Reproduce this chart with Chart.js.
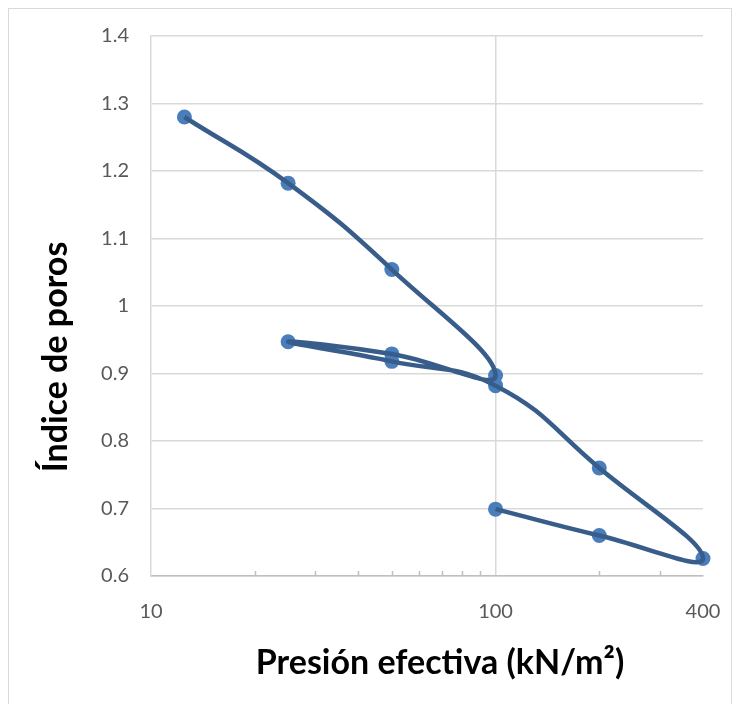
<!DOCTYPE html>
<html>
<head>
<meta charset="utf-8">
<script src="https://cdn.jsdelivr.net/npm/chart.js@4"></script>
<style>
  body { margin: 0; background: #fff; }
  #wrap { position: relative; width: 739px; height: 704px; overflow: hidden; }
  #frame { position: absolute; left: 8px; top: 8px; width: 722px; height: 720px; border: 1px solid #d9d9d9; }
  canvas { position: absolute; left: 0; top: 0; }
</style>
</head>
<body>
<div id="wrap">
  <div id="frame"></div>
  <canvas id="chart" width="739" height="704"></canvas>
</div>
<script>
// pressure (kN/m2) and void ratio, in loading/unloading order
const pressure = [12.5, 25, 50, 100, 50, 25, 50, 100, 200, 400, 200, 100];
const voidRatio = [1.280, 1.182, 1.054, 0.897, 0.929, 0.947, 0.918, 0.882, 0.760, 0.626, 0.660, 0.699];
const xTickValues = [10, 100, 400];
const xMinorTicks = [20, 30, 40, 50, 60, 70, 80, 90, 200, 300];
const xTitle = "Presión efectiva (kN/m²)";
const yTitle = "Índice de poros";

const points = pressure.map((p, i) => ({ x: p, y: voidRatio[i] }));

const axisExtras = {
  id: "axisExtras",
  afterDraw(chart) {
    const ctx = chart.ctx;
    const xs = chart.scales.x;
    const area = chart.chartArea;
    ctx.save();
    ctx.strokeStyle = "#bfbfbf";
    ctx.lineWidth = 1.5;
    xMinorTicks.forEach(v => {
      const px = Math.round(xs.getPixelForValue(v)) + 0.5;
      ctx.beginPath();
      ctx.moveTo(px, area.bottom);
      ctx.lineTo(px, area.bottom - 5);
      ctx.stroke();
    });
    ctx.fillStyle = "#000";
    ctx.font = "bold 34px Lato";
    ctx.textAlign = "center";
    ctx.textBaseline = "middle";
    ctx.fillText(xTitle, 440, 663);
    ctx.translate(56, 357);
    ctx.rotate(-Math.PI / 2);
    ctx.fillText(yTitle, 0, 0);
    ctx.restore();
  }
};

new Chart(document.getElementById("chart"), {
  type: "scatter",
  data: {
    datasets: [
      {
        data: points,
        showLine: true,
        tension: 0.45,
        borderColor: "#385d8a",
        borderWidth: 4.5,
        pointRadius: 0,
        clip: 12,
        order: 1
      },
      {
        data: points,
        showLine: false,
        pointRadius: 7.5,
        pointBackgroundColor: "#4a7ebb",
        pointBorderWidth: 0,
        clip: 12,
        order: 2
      }
    ]
  },
  options: {
    responsive: false,
    animation: false,
    devicePixelRatio: 1,
    layout: { padding: { top: 36, right: 36, left: 0, bottom: 0 } },
    plugins: { legend: { display: false }, tooltip: { enabled: false } },
    scales: {
      x: {
        type: "logarithmic",
        min: 10,
        max: 400,
        afterBuildTicks: s => { s.ticks = xTickValues.map(v => ({ value: v })); },
        afterFit: s => { s.height = 128; s.paddingLeft = 0; s.paddingRight = 0; },
        ticks: {
          autoSkip: false,
          maxRotation: 0,
          padding: 24,
          color: "#595959",
          font: { family: "Lato", size: 20 },
          callback: v => String(v)
        },
        grid: {
          drawTicks: false,
          lineWidth: 1.5,
          color: c => (c.tick && c.tick.value === 100 ? "#d9d9d9" : "rgba(0,0,0,0)")
        },
        border: { color: "#bfbfbf", width: 1.5 }
      },
      y: {
        min: 0.6,
        max: 1.4,
        afterFit: s => { s.width = 151; s.paddingTop = 0; s.paddingBottom = 0; },
        ticks: {
          stepSize: 0.1,
          padding: 22,
          color: "#595959",
          font: { family: "Lato", size: 20 },
          callback: v => String(Math.round(v * 10) / 10)
        },
        grid: { drawTicks: false, lineWidth: 1.5, color: "#d9d9d9" },
        border: { color: "#d9d9d9", width: 1.5 }
      }
    }
  },
  plugins: [axisExtras]
});
</script>
</body>
</html>
